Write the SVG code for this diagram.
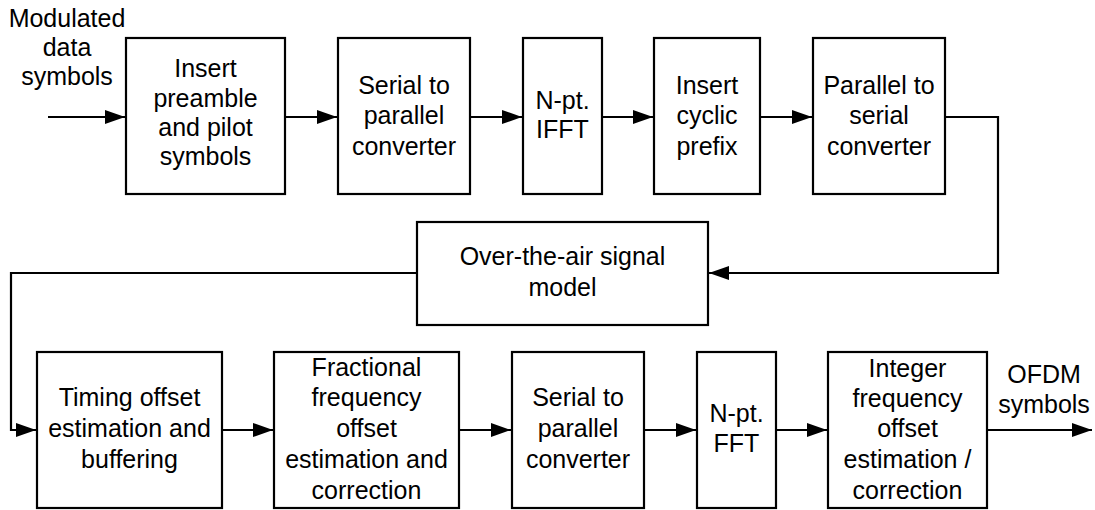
<svg xmlns="http://www.w3.org/2000/svg" width="1095" height="510" viewBox="0 0 1095 510">
<defs>
<style>
.box{fill:#fff;stroke:#000;stroke-width:2.2}
.ln{fill:none;stroke:#000;stroke-width:2.2}
text{font-family:"Liberation Sans",Arial,sans-serif;font-size:25px;fill:#000;text-anchor:middle}
</style>
<marker id="ah" markerUnits="userSpaceOnUse" markerWidth="21" markerHeight="15" refX="20" refY="7" orient="auto">
<path d="M0,0 L20,7 L0,14 z" fill="#000"/>
</marker>
</defs>
<rect width="1095" height="510" fill="#fff"/>
<g id="connectors">
<path class="ln" d="M48,117 H125" marker-end="url(#ah)"/>
<path class="ln" d="M285,117 H337" marker-end="url(#ah)"/>
<path class="ln" d="M470,117 H522" marker-end="url(#ah)"/>
<path class="ln" d="M602,117 H653" marker-end="url(#ah)"/>
<path class="ln" d="M760,117 H812" marker-end="url(#ah)"/>
<path class="ln" d="M945,117 H998 V273 H709" marker-end="url(#ah)"/>
<path class="ln" d="M417,273 H11 V430 H36" marker-end="url(#ah)"/>
<path class="ln" d="M222,430 H273" marker-end="url(#ah)"/>
<path class="ln" d="M459,430 H511" marker-end="url(#ah)"/>
<path class="ln" d="M644,430 H696" marker-end="url(#ah)"/>
<path class="ln" d="M776,430 H827" marker-end="url(#ah)"/>
<path class="ln" d="M987,430 H1092" marker-end="url(#ah)"/>
</g>
<g id="input-label">
<text x="67" y="27">Modulated</text>
<text x="67" y="56">data</text>
<text x="67" y="85">symbols</text>
</g>
<g id="insert-preamble">
<rect class="box" x="126" y="38" width="159" height="156"/>
<text x="205.5" y="77">Insert</text>
<text x="205.5" y="107">preamble</text>
<text x="205.5" y="136">and pilot</text>
<text x="205.5" y="165">symbols</text>
</g>
<g id="serial-to-parallel-tx">
<rect class="box" x="338" y="38" width="132" height="156"/>
<text x="404" y="94">Serial to</text>
<text x="404" y="124">parallel</text>
<text x="404" y="155">converter</text>
</g>
<g id="ifft">
<rect class="box" x="523" y="38" width="79" height="156"/>
<text x="562.5" y="109">N-pt.</text>
<text x="562.5" y="138">IFFT</text>
</g>
<g id="insert-cp">
<rect class="box" x="654" y="38" width="106" height="156"/>
<text x="707" y="94">Insert</text>
<text x="707" y="124">cyclic</text>
<text x="707" y="155">prefix</text>
</g>
<g id="parallel-to-serial">
<rect class="box" x="813" y="38" width="132" height="156"/>
<text x="879" y="94">Parallel to</text>
<text x="879" y="124">serial</text>
<text x="879" y="155">converter</text>
</g>
<g id="ota-model">
<rect class="box" x="417" y="222" width="291" height="103"/>
<text x="562.5" y="265">Over-the-air signal</text>
<text x="562.5" y="296">model</text>
</g>
<g id="timing-offset">
<rect class="box" x="37" y="352" width="185" height="156"/>
<text x="129.5" y="406">Timing offset</text>
<text x="129.5" y="437">estimation and</text>
<text x="129.5" y="468">buffering</text>
</g>
<g id="fractional-freq">
<rect class="box" x="274" y="352" width="185" height="156"/>
<text x="366.5" y="376">Fractional</text>
<text x="366.5" y="406">frequency</text>
<text x="366.5" y="437">offset</text>
<text x="366.5" y="468">estimation and</text>
<text x="366.5" y="499">correction</text>
</g>
<g id="serial-to-parallel-rx">
<rect class="box" x="512" y="352" width="132" height="156"/>
<text x="578" y="406">Serial to</text>
<text x="578" y="437">parallel</text>
<text x="578" y="468">converter</text>
</g>
<g id="fft">
<rect class="box" x="697" y="352" width="79" height="156"/>
<text x="736.5" y="422">N-pt.</text>
<text x="736.5" y="452">FFT</text>
</g>
<g id="integer-freq">
<rect class="box" x="828" y="352" width="159" height="156"/>
<text x="907.5" y="377">Integer</text>
<text x="907.5" y="407">frequency</text>
<text x="907.5" y="437">offset</text>
<text x="907.5" y="468">estimation /</text>
<text x="907.5" y="499">correction</text>
</g>
<g id="output-label">
<text x="1044" y="383">OFDM</text>
<text x="1044" y="413">symbols</text>
</g>
</svg>
